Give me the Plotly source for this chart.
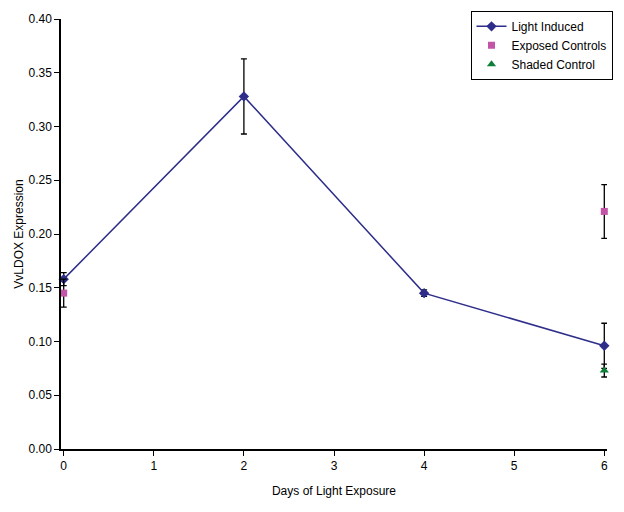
import plotly.graph_objects as go

days_li = [0, 2, 4, 6]
light_induced = [0.158, 0.328, 0.145, 0.096]
light_induced_err = [0.006, 0.035, 0.003, 0.021]

days_ec = [0, 6]
exposed_controls = [0.145, 0.221]
exposed_controls_err = [0.013, 0.025]

days_sc = [6]
shaded_control = [0.073]
shaded_control_err = [0.006]

x_ticks = [0, 1, 2, 3, 4, 5, 6]
y_ticks = [0, 0.05, 0.10, 0.15, 0.20, 0.25, 0.30, 0.35, 0.40]

font = "Liberation Sans, Arial, sans-serif"

def err(vals):
    return dict(type="data", array=vals, visible=True, color="black", thickness=1.3, width=3)

fig = go.Figure()
fig.add_trace(go.Scatter(
    x=days_li, y=light_induced, name="Light Induced", mode="lines+markers",
    line=dict(color="#2E2E8A", width=1.5),
    marker=dict(symbol="diamond", size=8, color="#2E2E8A"),
    error_y=err(light_induced_err), cliponaxis=False))
fig.add_trace(go.Scatter(
    x=days_ec, y=exposed_controls, name="Exposed Controls", mode="markers",
    marker=dict(symbol="square", size=7, color="#C355A8"),
    error_y=err(exposed_controls_err), cliponaxis=False))
fig.add_trace(go.Scatter(
    x=days_sc, y=shaded_control, name="Shaded Control", mode="markers",
    marker=dict(symbol="triangle-up", size=8, color="#0E7F3A"),
    error_y=err(shaded_control_err), cliponaxis=False))

fig.update_layout(
    width=624, height=512,
    margin=dict(l=61, r=17, t=19, b=63, autoexpand=False),
    paper_bgcolor="white", plot_bgcolor="white",
    font=dict(family=font, size=12, color="black"),
    showlegend=True,
    legend=dict(x=0.75, y=1.019, xanchor="left", yanchor="top",
                bordercolor="black", borderwidth=1, bgcolor="white",
                font=dict(size=12), tracegroupgap=0, itemwidth=30),
    xaxis=dict(range=[-0.03, 6.03], tickvals=x_ticks, ticktext=[str(v) for v in x_ticks],
               showline=True, linecolor="black", linewidth=1.5, automargin=False,
               ticks="outside", ticklen=5, tickcolor="black", showgrid=False, zeroline=False,
               title=dict(text="Days of Light Exposure", font=dict(size=12), standoff=14)),
    yaxis=dict(range=[0, 0.40], tickvals=y_ticks, ticktext=[f"{v:.2f}" for v in y_ticks],
               showline=True, linecolor="black", linewidth=1.5, automargin=False,
               ticks="outside", ticklen=5, tickcolor="black", showgrid=False, zeroline=False,
               title=dict(text="VvLDOX Expression", font=dict(size=12), standoff=2)),
)

fig.write_html("out.html")
